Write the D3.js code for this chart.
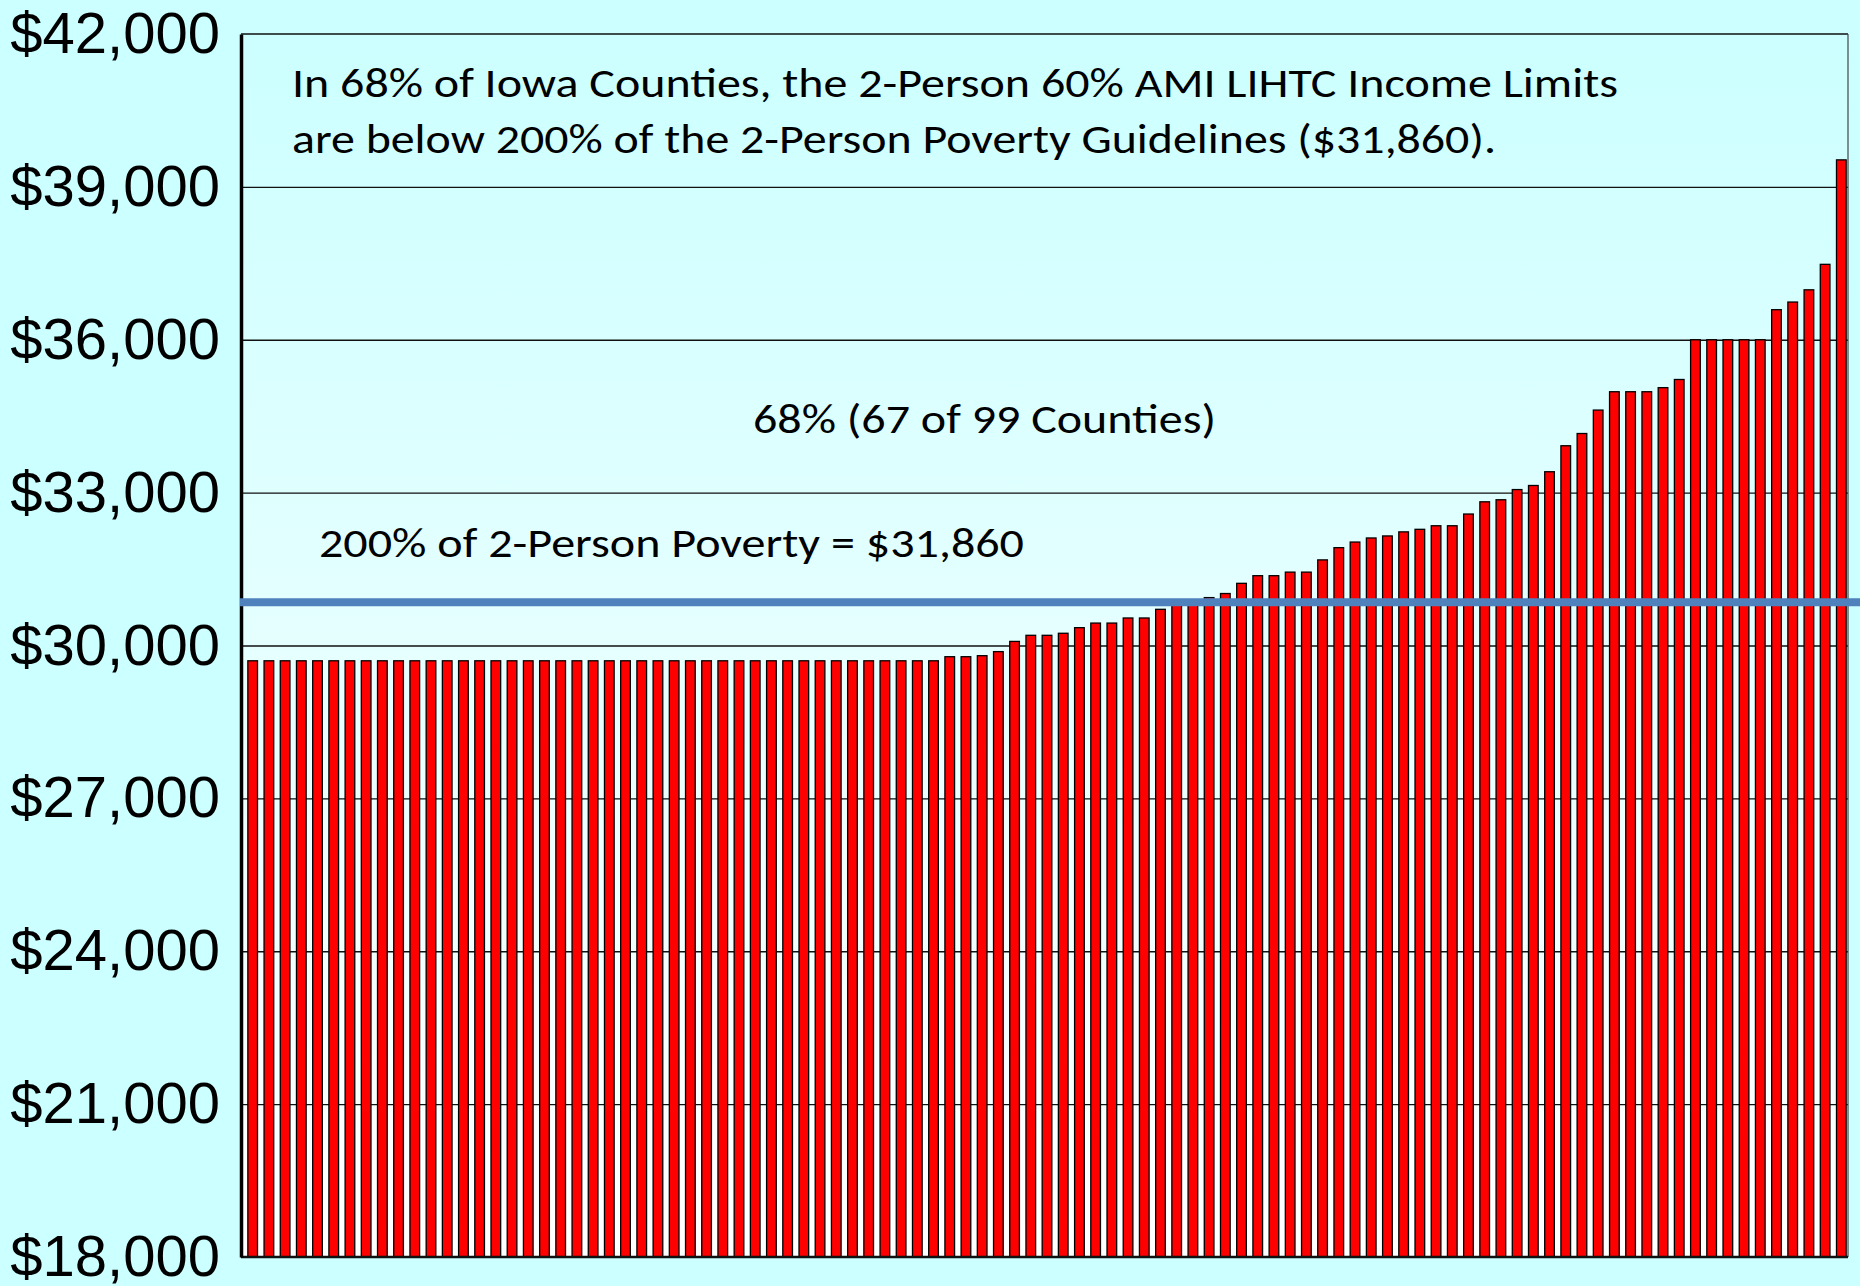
<!DOCTYPE html>
<html lang="en">
  <head>
  <meta charset="utf-8" />
  <title>Iowa LIHTC income limits vs poverty</title>
  <style>
    html, body { margin:0; padding:0; background:#CCFFFF; }
    svg { display:block; }
  </style>
  </head>
  <body>

    <div class="container"></div>

    <script src="https://cdn.jsdelivr.net/npm/d3@7"></script>
    <script type="text/javascript">
      "use strict";

      // 2-person 60% AMI LIHTC income limit, one bar per county, sorted
      let limits = [
        29700, 29700, 29700, 29700, 29700, 29700, 29700, 29700, 29700, 29700,
        29700, 29700, 29700, 29700, 29700, 29700, 29700, 29700, 29700, 29700,
        29700, 29700, 29700, 29700, 29700, 29700, 29700, 29700, 29700, 29700,
        29700, 29700, 29700, 29700, 29700, 29700, 29700, 29700, 29700, 29700,
        29700, 29700, 29700, 29780, 29780, 29800, 29880, 30080, 30200, 30200,
        30240, 30350, 30440, 30440, 30540, 30540, 30710, 30820, 30880, 30940,
        31020, 31220, 31370, 31370, 31440, 31440, 31680, 31920, 32030, 32110,
        32150, 32230, 32280, 32350, 32350, 32580, 32820, 32860, 33060, 33140,
        33410, 33920, 34160, 34620, 34980, 34980, 34980, 35060, 35220, 36000,
        36000, 36000, 36000, 36000, 36590, 36740, 36980, 37480, 39530
      ]
      let yTicks = [18000, 21000, 24000, 27000, 30000, 33000, 36000, 39000, 42000]
      let yDomain = [18000, 42000]
      // the blue line sits a bit under the $31,860 it is labelled with
      let povertyLineAt = 30850

      let titleLines = [
        "In 68% of Iowa Counties, the 2-Person 60% AMI LIHTC Income Limits",
        "are below 200% of the 2-Person Poverty Guidelines ($31,860)."
      ]
      let shareLabel = "68% (67 of 99 Counties)"
      let povertyLabel = "200% of 2-Person Poverty = $31,860"

      let width = 1860
      let height = 1286
      let plot = ({left: 241, right: 1848, top: 34, bottom: 1257})
      let svg, x, y

      init(".container")
      draw()

      function init(cssSelector){
        svg = d3.select(cssSelector).append("svg")
            .attr("width", width)
            .attr("height", height)

        let grad = svg.append("defs").append("linearGradient")
            .attr("id", "plotbg")
            .attr("x1", 0).attr("y1", 0).attr("x2", 0).attr("y2", 1)
        grad.append("stop").attr("offset", "0%").attr("stop-color", "#CCFFFF")
        grad.append("stop").attr("offset", "100%").attr("stop-color", "#FFFFFF")
      }

      function draw(){
        x = d3.scaleBand()
            .domain(limits.map((d, i) => i))
            .range([244, 1850])
            .paddingInner(0.33)
            .paddingOuter(0.2)

        y = d3.scaleLinear()
            .domain(yDomain)
            .range([plot.bottom, plot.top])

        svg.append("rect")
            .attr("x", plot.left)
            .attr("y", plot.top)
            .attr("width", plot.right - plot.left)
            .attr("height", plot.bottom - plot.top)
            .attr("fill", "url(#plotbg)")

        // gridlines
        let grid = svg.append("g")
            .attr("transform", `translate(${plot.left},0)`)
            .call(d3.axisLeft(y).tickValues(yTicks.slice(1, -1))
              .tickSize(-(plot.right - plot.left)).tickFormat(""))
        grid.select(".domain").remove()
        grid.selectAll(".tick line")
            .attr("stroke", "#111")
            .attr("stroke-width", 1.4)

        // bars
        svg.append("g").selectAll("rect")
          .data(limits)
          .join("rect")
            .attr("x", (d, i) => x(i) + 0.6)
            .attr("y", d => y(d))
            .attr("width", x.bandwidth() - 1.2)
            .attr("height", d => y(yDomain[0]) - y(d))
            .attr("fill", "#FF0000")
            .attr("stroke", "#000")
            .attr("stroke-width", 1.3)

        // frame: thin top and right, heavy bottom
        svg.append("line")
            .attr("x1", plot.left).attr("x2", plot.right)
            .attr("y1", plot.top).attr("y2", plot.top)
            .attr("stroke", "#111").attr("stroke-width", 1.6)
        svg.append("line")
            .attr("x1", plot.right).attr("x2", plot.right)
            .attr("y1", plot.top).attr("y2", plot.bottom)
            .attr("stroke", "#444").attr("stroke-width", 1.2)
        svg.append("line")
            .attr("x1", plot.left).attr("x2", plot.right)
            .attr("y1", plot.bottom).attr("y2", plot.bottom)
            .attr("stroke", "#111").attr("stroke-width", 2.5)

        // y axis with dollar labels
        let yAxis = svg.append("g")
            .attr("transform", `translate(${plot.left},0)`)
            .call(d3.axisLeft(y).tickValues(yTicks)
              .tickSize(0).tickPadding(21).tickFormat(d3.format("$,")))
        yAxis.select(".domain")
            .attr("stroke", "#000")
            .attr("stroke-width", 3.5)
        yAxis.selectAll(".tick text")
            .attr("fill", "#000")
            .style("font-family", "'Liberation Sans', Arial, sans-serif")
            .style("font-size", "58px")

        // poverty line
        svg.append("line")
            .attr("x1", 240).attr("x2", width)
            .attr("y1", y(povertyLineAt)).attr("y2", y(povertyLineAt))
            .attr("stroke", "#4F81BD")
            .attr("stroke-width", 8)

        // annotations
        let font = "Carlito, Lato, 'Open Sans', sans-serif"
        let notes = [
          {text: titleLines[0], x: 292, y: 97, size: 41, len: 1326},
          {text: titleLines[1], x: 292, y: 153, size: 41, len: 1204},
          {text: shareLabel, x: 753, y: 433, size: 42, len: 463},
          {text: povertyLabel, x: 319, y: 557, size: 42, len: 705}
        ]
        svg.append("g").selectAll("text")
          .data(notes)
          .join("text")
            .attr("x", d => d.x)
            .attr("y", d => d.y)
            .attr("textLength", d => d.len)
            .attr("lengthAdjust", "spacingAndGlyphs")
            .style("font-family", font)
            .style("font-size", d => d.size + "px")
            .attr("fill", "#000")
            .text(d => d.text)
      }

    </script>

  </body>
</html>
